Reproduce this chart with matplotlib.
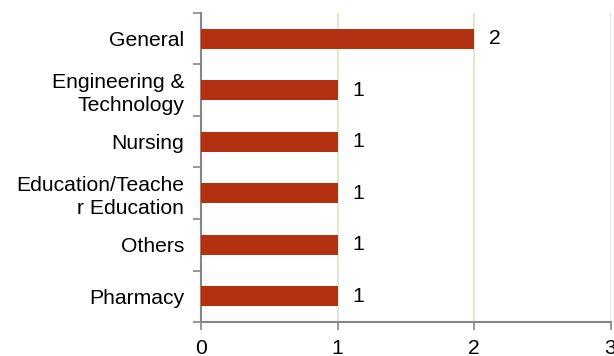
import numpy as np
import matplotlib.pyplot as plt

plt.rcParams['font.family'] = ['Liberation Sans', 'DejaVu Sans']

# data, top to bottom as shown
categories = ['General', 'Engineering &\nTechnology', 'Nursing',
              'Education/Teache\nr Education', 'Others', 'Pharmacy']
counts = [2, 1, 1, 1, 1, 1]

bar_color = '#b33110'
axis_grey = '#868686'
fs = 15.2

fig = plt.figure(figsize=(6.14, 3.56), dpi=100)
ax = fig.add_axes([0.3274, 0.0955, 0.6669, 0.868])

y = np.arange(len(categories))
ax.barh(y, counts, height=0.39, color=bar_color, zorder=3)

# value labels to the right of bars
for yi, v in zip(y, counts):
    ax.text(v + 0.11, yi, str(v), va='center', ha='left', fontsize=fs)

ax.set_xlim(0, 3)
ax.set_ylim(len(categories) - 0.5, -0.5)
ax.set_xticks([0, 1, 2, 3])
ax.set_xticklabels(['0', '1', '2', '3'], fontsize=fs)

ax.set_yticks(y)
ax.set_yticklabels(categories, fontsize=fs, linespacing=1.22)
ax.set_yticks(np.arange(-0.5, len(categories), 1), minor=True)
ax.tick_params(axis='y', which='major', length=0, pad=12)
ax.tick_params(axis='y', which='minor', length=6, width=1.2, color=axis_grey, direction='out')
ax.tick_params(axis='x', length=6, width=1.2, color=axis_grey, direction='out', pad=6)

ax.xaxis.grid(True, color='#d7e8bd', linewidth=1.2, zorder=0)
ax.set_axisbelow(True)

for s in ['top', 'right']:
    ax.spines[s].set_visible(False)
for s in ['left', 'bottom']:
    ax.spines[s].set_color(axis_grey)
    ax.spines[s].set_linewidth(1.5)

fig.savefig('out.png', dpi=100)
